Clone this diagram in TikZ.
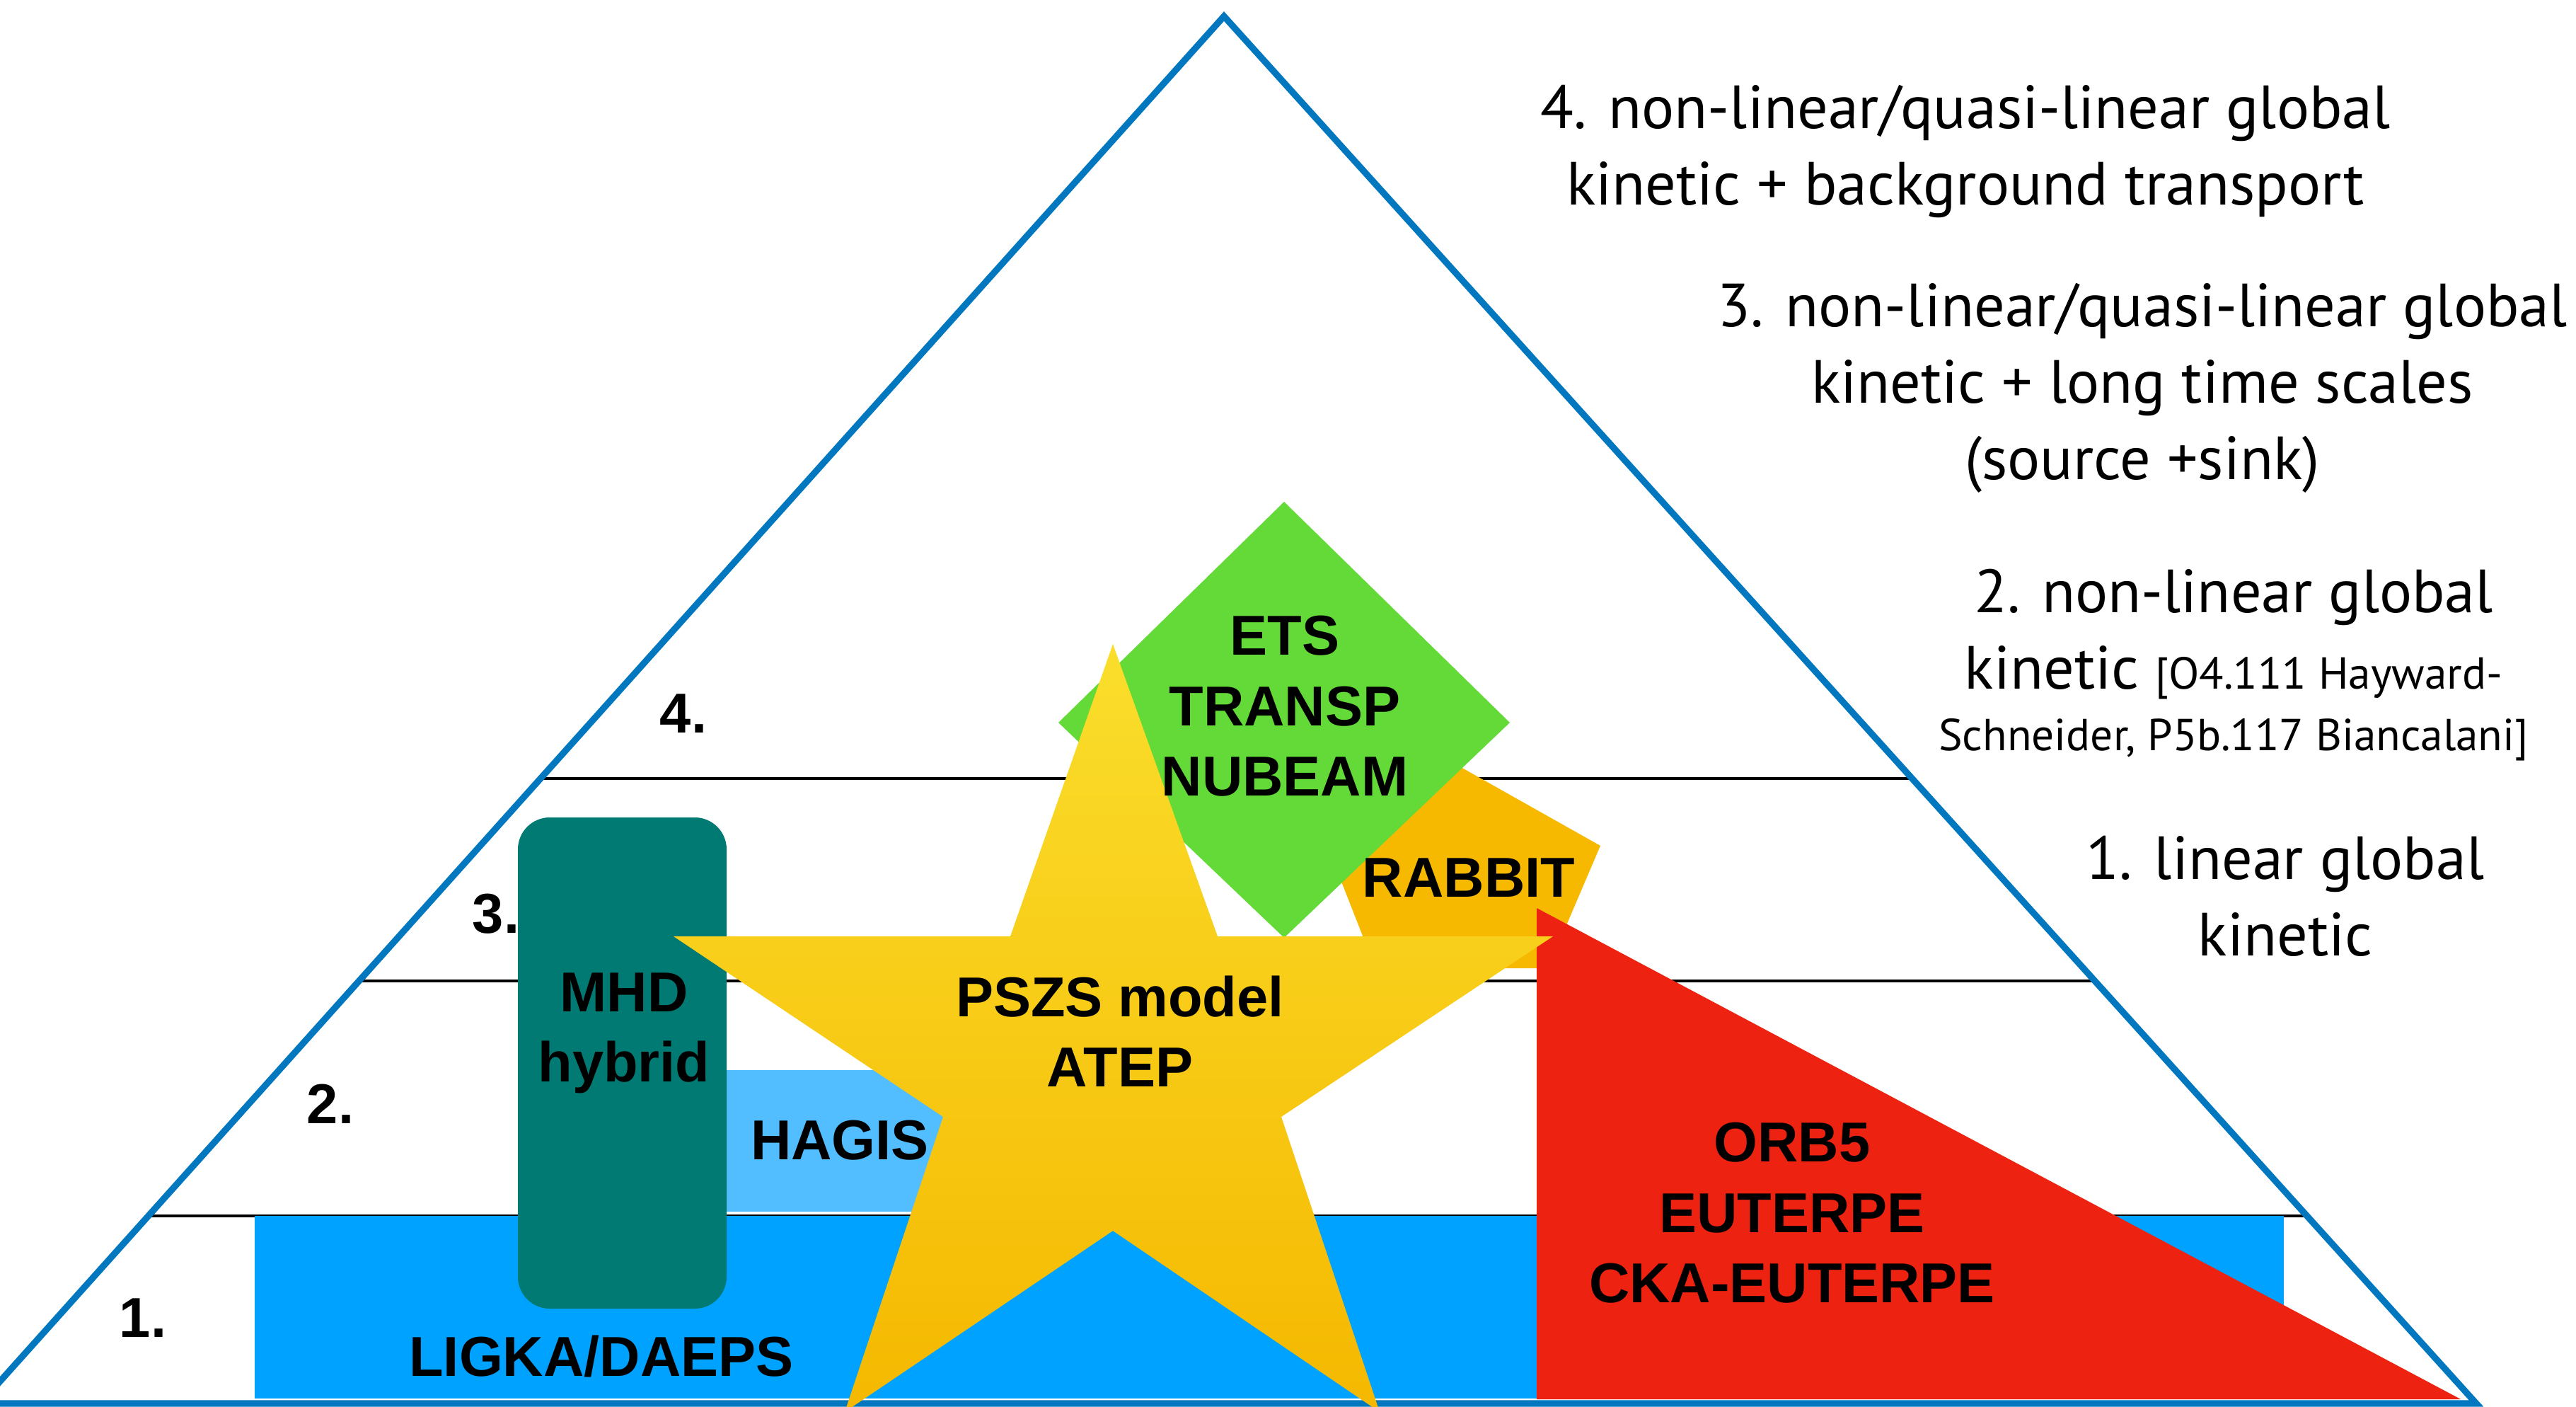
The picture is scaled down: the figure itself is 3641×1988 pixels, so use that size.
\documentclass[tikz,border=0pt]{standalone}
\usepackage{fontspec}
\setmainfont{Liberation Sans}
\newfontfamily\gill{PT Sans}
\usetikzlibrary{calc}
\definecolor{triblue}{RGB}{0,119,190}
\definecolor{ligka}{RGB}{0,162,255}
\definecolor{hagis}{RGB}{82,190,255}
\definecolor{mhd}{RGB}{0,122,114}
\definecolor{ets}{RGB}{99,218,56}
\definecolor{rabbit}{RGB}{246,185,0}
\definecolor{orb}{RGB}{238,34,17}
\definecolor{startop}{RGB}{250,222,44}
\definecolor{starbot}{RGB}{245,184,0}
\begin{document}
\begin{tikzpicture}[x=0.01cm,y=-0.01cm,
  code/.style={font=\fontsize{22.6}{28.3}\selectfont\bfseries, align=center, inner sep=0pt},
  lvl/.style={font=\fontsize{22.6}{28.3}\selectfont\bfseries, inner sep=0pt},
  desc/.style={font=\gill\fontsize{24.5}{30.7}\selectfont, align=center, inner sep=0pt},
  sepline/.style={line width=1.4pt, black},
]
\useasboundingbox (0,0) rectangle (3641,1988);
\clip (0,0) rectangle (3641,1988);
\coordinate (A) at (1730,23);
\coordinate (BL) at (-28,1983);
\coordinate (BR) at (3500,1983);
% level separators
\draw[sepline] ($(A)!{1077/1960}!(BL)$) -- ($(A)!{1077/1960}!(BR)$);
\draw[sepline] ($(A)!{1363/1960}!(BL)$) -- ($(A)!{1363/1960}!(BR)$);
\draw[sepline] ($(A)!{1695/1960}!(BL)$) -- ($(A)!{1695/1960}!(BR)$);
% shapes
\fill[ligka] (360,1718) rectangle (3228,1976);
\fill[hagis] (1027,1512) rectangle (1450,1712);
\fill[mhd, rounded corners=0.45cm] (732,1155) rectangle (1027,1849);
\fill[rabbit] (2040,1070) -- (2262,1195) -- (2188,1368) -- (1944,1368) -- (1876,1195) -- cycle;
\fill[ets] (1815,709) -- (2134,1021) -- (1815,1325) -- (1496,1021) -- cycle;
\fill[orb] (2172,1283) -- (3478,1977) -- (2172,1977) -- cycle;
\draw[triblue, line width=2.6pt] (A) -- (BR) -- (BL) -- cycle;
\shade[top color=startop, bottom color=starbot] (1573,910) -- (1721,1323) -- (2195,1323) -- (1811,1578) -- (1950,1995) -- (1573,1739) -- (1194,1995) -- (1333,1578) -- (952,1323) -- (1428,1323) -- cycle;
% level numbers
\node[lvl] (n4) at (966,1008) {4.};
\node[lvl] (n3) at (701,1291) {3.};
\node[lvl] (n2) at (467,1560) {2.};
\node[lvl] (n1) at (202,1862) {1.};
% code labels
\node[code] (etsl) at (1816,998) {ETS\\TRANSP\\NUBEAM};
\node[code] (rabl) at (2076,1240) {RABBIT};
\node[code] (pszs) at (1583,1457) {PSZS model\\ATEP};
\node[code] (mhdl) at (882,1460) {MHD\\hybrid};
\node[code] (hagl) at (1187,1611) {HAGIS};
\node[code] (ligl) at (850,1916) {LIGKA/DAEPS};
\node[code] (orbl) at (2533,1714) {ORB5\\EUTERPE\\CKA-EUTERPE};
% descriptions
\node[desc] (d4) at (2778,214) {4. non-linear/quasi-linear global\\kinetic + background transport};
\node[desc] (d3) at (3028,548) {3. non-linear/quasi-linear global\\kinetic + long time scales\\(source +sink)};
\node[desc] (d2) at (3157,940) {2. non-linear global\\kinetic {\fontsize{18}{23}\selectfont[O4.111 Hayward-}\\[-6pt]{\fontsize{18}{23}\selectfont Schneider, P5b.117 Biancalani]}};
\node[desc] (d1) at (3230,1266) {1. linear global\\kinetic};
\end{tikzpicture}
\end{document}
